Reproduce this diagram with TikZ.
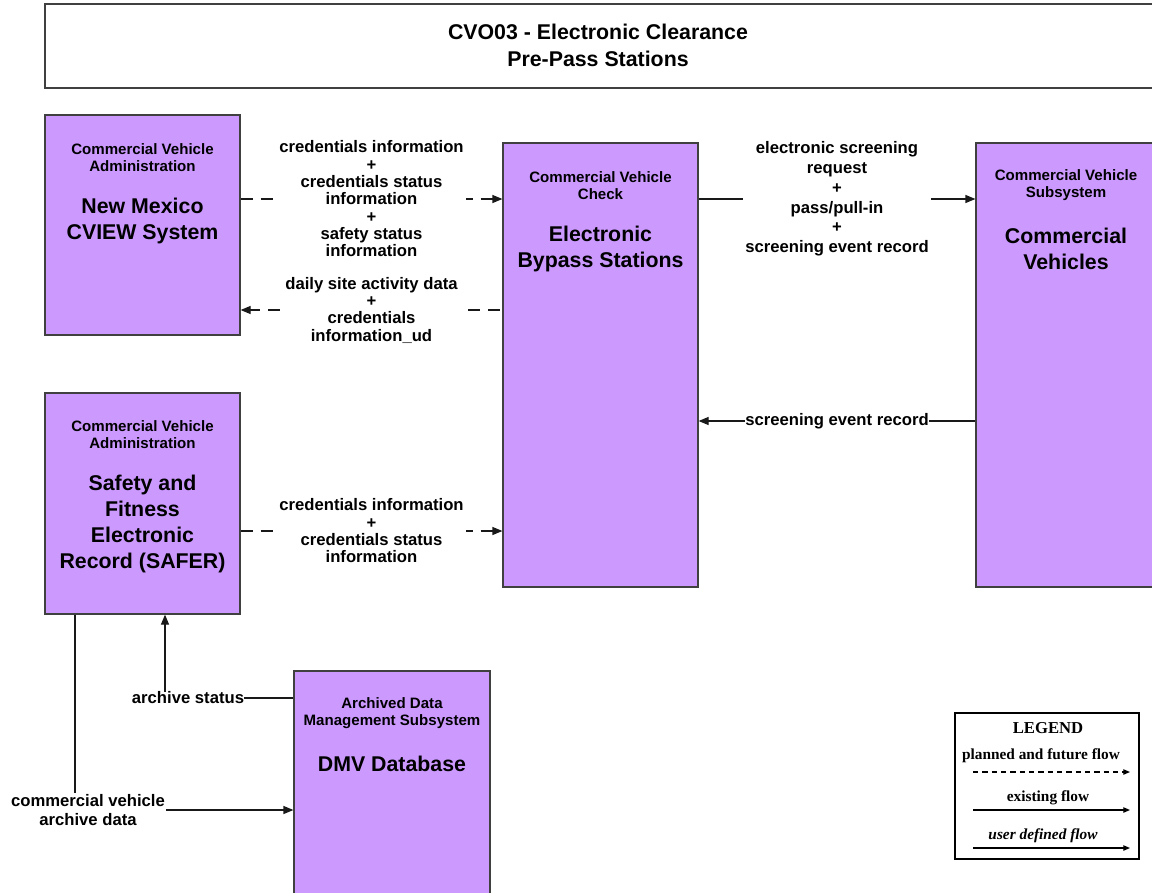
\documentclass[tikz,border=0pt]{standalone}
\usepackage{fontspec}
\setmainfont{Liberation Sans}
\newfontfamily\legendfont{Liberation Serif}
\usepackage{tikz}
\usetikzlibrary{arrows.meta, positioning}
\definecolor{boxpurple}{RGB}{204,153,255}
\definecolor{edgegray}{RGB}{64,64,64}
\definecolor{flowblack}{RGB}{25,25,25}

\begin{document}
\begin{tikzpicture}[
    x=0.75pt, y=-0.75pt,
    sysbox/.style={rectangle, draw=edgegray, line width=0.9pt, fill=boxpurple, inner sep=0pt},
    framebox/.style={rectangle, draw=edgegray, line width=0.9pt, fill=white, inner sep=0pt},
    hdr/.style={align=center, font=\fontsize{11.3}{12.75}\selectfont\bfseries},
    bigname/.style={align=center, font=\fontsize{16}{19.5}\selectfont\bfseries},
    flowlbl/.style={align=center, fill=white, inner sep=2pt, font=\fontsize{12.5}{13}\selectfont\bfseries},
    exist/.style={-{Triangle[length=7.5pt,width=6pt]}, line width=0.9pt, draw=flowblack},
    planned/.style={exist, dash pattern=on 9pt off 6pt},
    legtext/.style={font=\legendfont\fontsize{11.5}{13}\selectfont\bfseries},
    legflow/.style={-{Triangle[length=5pt,width=4pt]}, line width=0.9pt, draw=black},
]
    \useasboundingbox (0,0) rectangle (1152,892);

    % title
    \node[framebox, minimum width=836.25pt, minimum height=63pt] (title) at (602.5,46) {};
    \node[font=\fontsize{16}{20}\selectfont\bfseries, align=center] (title-txt) at (598,45.5)
        {CVO03 - Electronic Clearance\\Pre-Pass Stations};

    % subsystems
    \node[sysbox, minimum width=146.25pt, minimum height=165pt] (nm) at (142.5,225) {};
    \node[hdr] (nm-hdr) at (142.5,157.5) {Commercial Vehicle\\Administration};
    \node[bigname] (nm-name) at (142.5,221) {New Mexico\\CVIEW System};

    \node[sysbox, minimum width=146.25pt, minimum height=333pt] (ebs) at (600.5,365) {};
    \node[hdr] (ebs-hdr) at (600.5,185.5) {Commercial Vehicle\\Check};
    \node[bigname] (ebs-name) at (600.5,249) {Electronic\\Bypass Stations};

    \node[sysbox, minimum width=138pt, minimum height=333pt] (cv) at (1068,365) {};
    \node[hdr] (cv-hdr) at (1066,185.5) {Commercial Vehicle\\Subsystem};
    \node[bigname] (cv-name) at (1066,249) {Commercial\\Vehicles};

    \node[sysbox, minimum width=146.25pt, minimum height=165.75pt] (safer) at (142.5,503.5) {};
    \node[hdr] (safer-hdr) at (142.5,435) {Commercial Vehicle\\Administration};
    \node[bigname] (safer-name) at (142.5,524) {Safety and\\Fitness\\Electronic\\Record (SAFER)};

    \node[sysbox, minimum width=147pt, minimum height=179.25pt] (dmv) at (392,790.5) {};
    \node[hdr] (dmv-hdr) at (392,713.5) {Archived Data\\Management Subsystem};
    \node[bigname] (dmv-name) at (392,764) {DMV Database};

    % flows
    \draw[planned] (nm.east |- 0,199) -- node[flowlbl]
        {credentials information\\+\\credentials status\\information\\+\\safety status\\information} (ebs.west |- 0,199);
    \draw[planned, dash phase=13pt] (ebs.west |- 0,310) -- node[flowlbl]
        {daily site activity data\\+\\credentials\\information\_ud} (nm.east |- 0,310);
    \draw[exist] (ebs.east |- 0,199) -- node[flowlbl, font=\fontsize{12.5}{14.8}\selectfont\bfseries]
        {electronic screening\\request\\+\\pass/pull-in\\+\\screening event record} (cv.west |- 0,199);
    \draw[exist] (cv.west |- 0,421) -- node[flowlbl, inner sep=0pt] {screening event record} (ebs.east |- 0,421);
    \draw[planned] (safer.east |- 0,531) -- node[flowlbl]
        {credentials information\\+\\credentials status\\information} (ebs.west |- 0,531);

    \coordinate (as-turn) at (165,698);
    \draw[exist] (dmv.west |- as-turn) -- (as-turn) -- (safer.south -| as-turn);
    \node[flowlbl, inner sep=0pt] (as-lbl) at (188,698) {archive status};

    \coordinate (cvad-turn) at (75,810);
    \draw[exist] (safer.south -| cvad-turn) -- (cvad-turn) -- (dmv.west |- cvad-turn);
    \node[flowlbl, inner sep=1pt, font=\fontsize{12.5}{14.5}\selectfont\bfseries] (cvad-lbl) at (88,810)
        {commercial vehicle\\archive data};

    % legend
    \node[framebox, draw=black, minimum width=138pt, minimum height=109.5pt] (legend) at (1047,786) {};
    \node[legtext, font=\legendfont\fontsize{12.5}{14}\selectfont\bfseries] (leg-title) at (1048,728) {LEGEND};
    \node[legtext] (leg-plan) at (1041,756) {planned and future flow};
    \coordinate (lp-a) at (973,772);
    \coordinate (lp-b) at (1130,772);
    \draw[legflow, dash pattern=on 4pt off 3pt] (lp-a) -- (lp-b);
    \node[legtext] (leg-exist) at (1048,798) {existing flow};
    \coordinate (le-a) at (973,810);
    \coordinate (le-b) at (1130,810);
    \draw[legflow] (le-a) -- (le-b);
    \node[legtext, font=\legendfont\fontsize{11.5}{13}\selectfont\bfseries\itshape] (leg-user) at (1043,836) {user defined flow};
    \coordinate (lu-a) at (973,848);
    \coordinate (lu-b) at (1130,848);
    \draw[legflow] (lu-a) -- (lu-b);
\end{tikzpicture}
\end{document}
